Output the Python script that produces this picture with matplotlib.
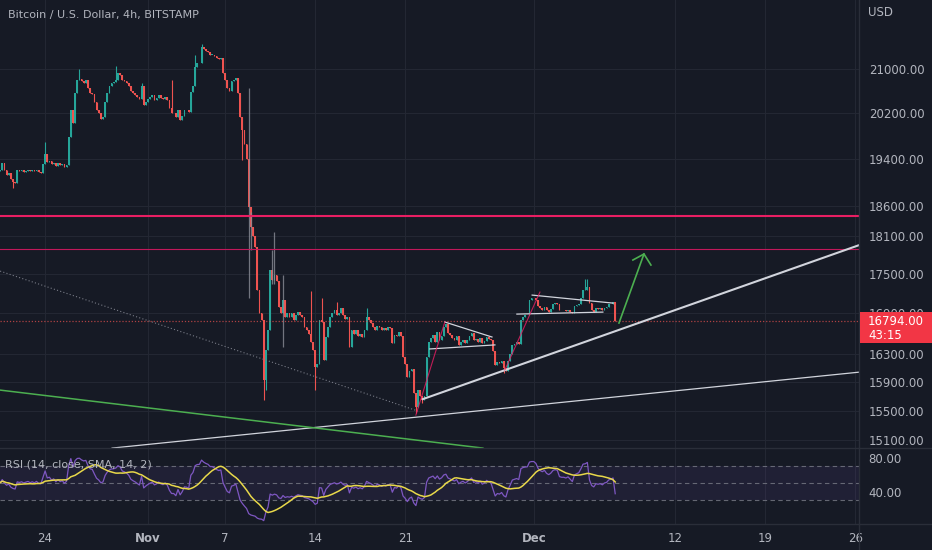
import numpy as np
import pandas as pd
import matplotlib
matplotlib.use("Agg")
import matplotlib.pyplot as plt
import matplotlib.dates as mdates
from matplotlib.patches import Rectangle
from matplotlib.ticker import FixedLocator, NullLocator, FixedFormatter

# BTC/USD 4h closes, one row per day
# (first row Oct 20 from 12:00, last row Dec 7 up to 08:00)
closes = [
    19200, 19320, 19200,                                  # Oct 20
    19120, 19160, 19050, 19000, 18980, 19200,             # Oct 21
    19180, 19200, 19170, 19190, 19210, 19180,             # Oct 22
    19200, 19180, 19210, 19170, 19160, 19300,             # Oct 23
    19480, 19340, 19360, 19300, 19330, 19270,             # Oct 24
    19320, 19280, 19300, 19250, 19290, 19780,             # Oct 25
    20250, 20030, 20560, 20800, 20830, 20780,             # Oct 26
    20750, 20800, 20650, 20560, 20540, 20400,             # Oct 27
    20260, 20200, 20100, 20130, 20400, 20570,             # Oct 28
    20700, 20750, 20760, 20800, 20930, 20900,             # Oct 29
    20800, 20780, 20750, 20700, 20600, 20560,             # Oct 30
    20530, 20490, 20450, 20700, 20340, 20400,             # Oct 31
    20450, 20490, 20520, 20440, 20470, 20520,             # Nov 1
    20470, 20450, 20490, 20440, 20300, 20200,             # Nov 2
    20200, 20130, 20250, 20080, 20150, 20260,             # Nov 3
    20250, 20220, 20590, 20700, 21050, 21120,             # Nov 4
    21130, 21430, 21380, 21350, 21330, 21280,             # Nov 5
    21280, 21250, 21220, 21200, 21220, 20940,             # Nov 6
    20800, 20650, 20600, 20780, 20800, 20840,             # Nov 7
    20560, 20130, 19900, 19660, 19400, 18580,             # Nov 8
    18250, 18100, 17930, 17260, 16900, 16800,             # Nov 9
    15930, 16360, 16650, 17570, 17410, 17490,             # Nov 10
    17400, 17000, 16900, 17100, 16850, 16900,             # Nov 11
    16850, 16900, 16800, 16870, 16930, 16880,             # Nov 12
    16850, 16700, 16650, 16600, 16480, 16360,             # Nov 13
    16110, 16150, 16800, 16780, 16220, 16550,             # Nov 14
    16700, 16850, 16900, 16950, 16880, 16910,             # Nov 15
    16980, 16870, 16820, 16850, 16400, 16650,             # Nov 16
    16600, 16650, 16560, 16600, 16550, 16650,             # Nov 17
    16850, 16800, 16760, 16700, 16650, 16720,             # Nov 18
    16700, 16650, 16680, 16660, 16700, 16690,             # Nov 19
    16460, 16580, 16560, 16620, 16560, 16260,             # Nov 20
    16150, 15970, 16050, 16080, 15750, 15550,             # Nov 21
    15790, 15700, 15650, 15700, 16260, 16480,             # Nov 22
    16530, 16580, 16480, 16620, 16500, 16560,             # Nov 23
    16700, 16740, 16610, 16580, 16540, 16510,             # Nov 24
    16560, 16430, 16480, 16510, 16460, 16500,             # Nov 25
    16560, 16610, 16500, 16520, 16480, 16530,             # Nov 26
    16460, 16490, 16550, 16520, 16500, 16350,             # Nov 27
    16140, 16190, 16170, 16200, 16100, 16060,             # Nov 28
    16200, 16300, 16430, 16450, 16470, 16450,             # Nov 29
    16800, 16850, 16870, 16880, 17100, 17130,             # Nov 30
    17130, 17100, 17020, 16980, 16960, 17000,             # Dec 1
    16950, 16930, 16970, 17040, 17060, 17050,             # Dec 2
    16960, 16950, 16950, 16940, 16960, 16930,             # Dec 3
    16900, 17010, 17030, 17050, 17130, 17250,             # Dec 4
    17260, 17300, 17060, 16950, 16920, 16980,             # Dec 5
    16970, 16980, 16960, 16990, 17000, 17040,             # Dec 6
    17050, 17070, 16794,                                  # Dec 7
]
first_open = 19180

# visible wick extremes (candle index -> price)
wick_highs = {21: 19690, 37: 21000, 54: 21070, 66: 20750, 80: 20800, 91: 21270,
              94: 21480, 145: 17240, 150: 17130, 157: 17070, 171: 16990,
              273: 17430, 274: 17420}
wick_lows = {6: 18900, 113: 19370, 123: 15650, 124: 15790, 147: 15790,
             194: 15470, 197: 15600, 235: 16030}
# faint grey wicks (candle index, low, high)
grey_wicks = [(116, 17134, 20657), (117, 17880, 18500), (127, 17350, 17880),
              (128, 17350, 18170), (132, 16400, 17490)]

# drawings on the chart: (time, price) pairs
hlines = [18440, 17895]
trend_main = [("2022-11-22 09:00", 15660), ("2022-12-26 07:00", 17960)]
trend_low = [("2022-10-29 05:00", 14992), ("2022-12-26 07:00", 16040)]
trend_green = [("2022-10-20 12:00", 15786), ("2022-11-27 01:00", 14992)]
trend_dotted = [("2022-10-20 12:00", 17550), ("2022-11-22 00:00", 15494)]
flag_lines = [
    [("2022-11-24 02:00", 16772), ("2022-11-27 18:00", 16550)],
    [("2022-11-22 22:00", 16375), ("2022-11-27 23:30", 16434)],
    [("2022-11-30 21:00", 17179), ("2022-12-07 04:00", 17057)],
    [("2022-11-29 16:30", 16891), ("2022-12-06 09:00", 16921)],
]
pink_lines = [
    [("2022-11-21 20:00", 15439), ("2022-11-24 02:00", 16772)],
    [("2022-11-28 18:00", 16071), ("2022-12-01 11:30", 17225)],
]
arrow_pts = [("2022-12-07 15:00", 16757), ("2022-12-09 13:40", 17819)]
arrow_head = [("2022-12-08 17:00", 17724), ("2022-12-09 13:40", 17819),
              ("2022-12-10 02:40", 17645)]

price_ticks = [21000, 20200, 19400, 18600, 18100, 17500, 16900, 16300, 15900, 15500, 15100]
date_ticks = ["2022-10-24", "2022-11-01", "2022-11-07", "2022-11-14", "2022-11-21",
              "2022-12-01", "2022-12-12", "2022-12-19", "2022-12-26"]
date_labels = ["24", "Nov", "7", "14", "21", "Dec", "12", "19", "26"]
rsi_ticks = [80, 40]

BG = "#161A25"
GRID = "#232733"
TXT = "#B2B5BE"
UP = "#26A69A"
DOWN = "#EF5350"

times = pd.date_range("2022-10-20 12:00", periods=len(closes), freq="4h")
x = mdates.date2num(times)
c = np.array(closes, dtype=float)
o = np.concatenate([[first_open], c[:-1]])
hi = np.maximum(o, c)
lo = np.minimum(o, c)
for k, v in wick_highs.items():
    hi[k] = v
for k, v in wick_lows.items():
    lo[k] = v
col = np.where(c >= o, UP, DOWN)

# RSI 14 (Wilder) and its 14 SMA
ag = al = 60.0
rsi = []
for d in np.diff(c, prepend=first_open):
    ag = (ag * 13 + max(d, 0)) / 14
    al = (al * 13 + max(-d, 0)) / 14
    rsi.append(100 - 100 / (1 + ag / al))
rsi = np.array(rsi)
rsi_ma = pd.Series(rsi).rolling(14, min_periods=1).mean().values

W, H = 932, 550
fig = plt.figure(figsize=(W / 100, H / 100), dpi=100, facecolor=BG)
ax = fig.add_axes([0, (H - 448) / H, 859 / W, 448 / H], facecolor=BG)
ax2 = fig.add_axes([0, (H - 524) / H, 859 / W, 76 / H], facecolor=BG, sharex=ax)

xmin = mdates.date2num(pd.Timestamp("2022-10-20 11:48"))
xmax = mdates.date2num(pd.Timestamp("2022-12-26 07:00"))
ax.set_xlim(xmin, xmax)
ax.set_yscale("log")
ax.set_ylim(14993, 22340)


def tx(pts):
    return ([mdates.date2num(pd.Timestamp(t)) for t, _ in pts], [p for _, p in pts])


# grid and axes
xt = [mdates.date2num(pd.Timestamp(t)) for t in date_ticks]
for a in (ax, ax2):
    for s in a.spines.values():
        s.set_visible(False)
    a.xaxis.set_major_locator(FixedLocator(xt))
    a.xaxis.set_minor_locator(NullLocator())
    a.grid(True, color=GRID, lw=0.8)
    a.set_axisbelow(True)
    a.yaxis.tick_right()
    a.tick_params(axis="y", length=0, pad=7, labelcolor=TXT, labelsize=8.5)
ax.yaxis.set_major_locator(FixedLocator(price_ticks))
ax.yaxis.set_minor_locator(NullLocator())
ax.yaxis.set_major_formatter(FixedFormatter([f"{p:.2f}" for p in price_ticks]))
ax.tick_params(axis="x", length=0, labelbottom=False)
ax2.xaxis.set_major_formatter(FixedFormatter(date_labels))
ax2.tick_params(axis="x", length=0, pad=6, labelcolor=TXT, labelsize=8.5)
for lab in ax2.get_xticklabels():
    if lab.get_text() in ("Nov", "Dec"):
        lab.set_fontweight("bold")

# candles
ax.vlines(x, lo, hi, colors=col, lw=0.8, zorder=2)
ax.bar(x, np.maximum(np.abs(c - o), 4), bottom=np.minimum(o, c),
       width=0.8 * 4 / 24, color=col, lw=0, zorder=3)
for k, l, h in grey_wicks:
    ax.vlines(x[k], l, h, colors="#8a8d96", lw=0.9, alpha=0.8, zorder=3)

# drawings
ax.axhline(hlines[0], color="#E91E63", lw=1.5, zorder=4)
ax.axhline(hlines[1], color="#C2185B", lw=0.8, zorder=4)
ax.axhline(c[-1], color=DOWN, lw=0.9, ls=(0, (1, 1.5)), alpha=0.7, zorder=4)
xs, ys = tx(trend_main)
ax.plot(xs, ys, color="#D1D4DC", lw=1.5, zorder=5)
xs, ys = tx(trend_low)
ax.plot(xs, ys, color="#D1D4DC", lw=0.9, zorder=5)
xs, ys = tx(trend_green)
ax.plot(xs, ys, color="#4CAF50", lw=1.1, zorder=5)
xs, ys = tx(trend_dotted)
ax.plot(xs, ys, color="#787B86", lw=0.8, ls=(0, (1, 2)), zorder=5)
for seg in flag_lines:
    xs, ys = tx(seg)
    ax.plot(xs, ys, color="#D1D4DC", lw=0.9, zorder=5)
for seg in pink_lines:
    xs, ys = tx(seg)
    ax.plot(xs, ys, color="#E91E63", lw=0.8, alpha=0.8, zorder=5)
xs, ys = tx(arrow_pts)
ax.plot(xs, ys, color="#4CAF50", lw=1.2, zorder=5)
xs, ys = tx(arrow_head)
ax.plot(xs, ys, color="#4CAF50", lw=1.2, zorder=5)

# last price label on the price scale
py = ax.transData.transform((xmax, c[-1]))[1]   # pixels from bottom
fig.add_artist(Rectangle((860 / W, (py - 22) / H), 72 / W, 31 / H,
                         transform=fig.transFigure, fc="#F23645", ec="none", zorder=20))
fig.text(868 / W, (py - 0.5) / H, f"{c[-1]:.2f}", color="white", fontsize=8.5,
         va="center", zorder=21)
fig.text(868 / W, (py - 15) / H, "43:15", color="white", fontsize=8.5,
         va="center", zorder=21)

# RSI pane
ax2.set_ylim(2.1, 91.5)
ax2.yaxis.set_major_locator(FixedLocator(rsi_ticks))
ax2.yaxis.set_major_formatter(FixedFormatter([f"{v:.2f}" for v in rsi_ticks]))
ax2.grid(False, axis="y")
ax2.axhspan(30, 70, color="#7E57C2", alpha=0.1, lw=0)
for lvl in (70, 50, 30):
    ax2.axhline(lvl, color="#787B86", lw=0.8, ls=(0, (4, 3)), alpha=0.8)
ax2.plot(x, rsi, color="#7E57C2", lw=0.9, zorder=4)
ax2.plot(x, rsi_ma, color="#E8D84A", lw=1.1, zorder=5)
ax2.text(0.006, 0.78, "RSI (14, close, SMA, 14, 2)", transform=ax2.transAxes,
         color=TXT, fontsize=8, va="center", zorder=6)

# pane separators and header texts
sep = "#2A2E39"
fig.add_artist(plt.Line2D([859 / W, 859 / W], [0, 1], color=sep, lw=1))
fig.add_artist(plt.Line2D([0, 1], [(H - 448) / H] * 2, color=sep, lw=1))
fig.add_artist(plt.Line2D([0, 1], [(H - 524) / H] * 2, color=sep, lw=1))
fig.text(8 / W, 1 - 15 / H, "Bitcoin / U.S. Dollar, 4h, BITSTAMP", color=TXT,
         fontsize=8, va="center")
fig.text(868 / W, 1 - 12 / H, "USD", color=TXT, fontsize=8.5, va="center")

fig.savefig("out.png", dpi=100, facecolor=BG)
